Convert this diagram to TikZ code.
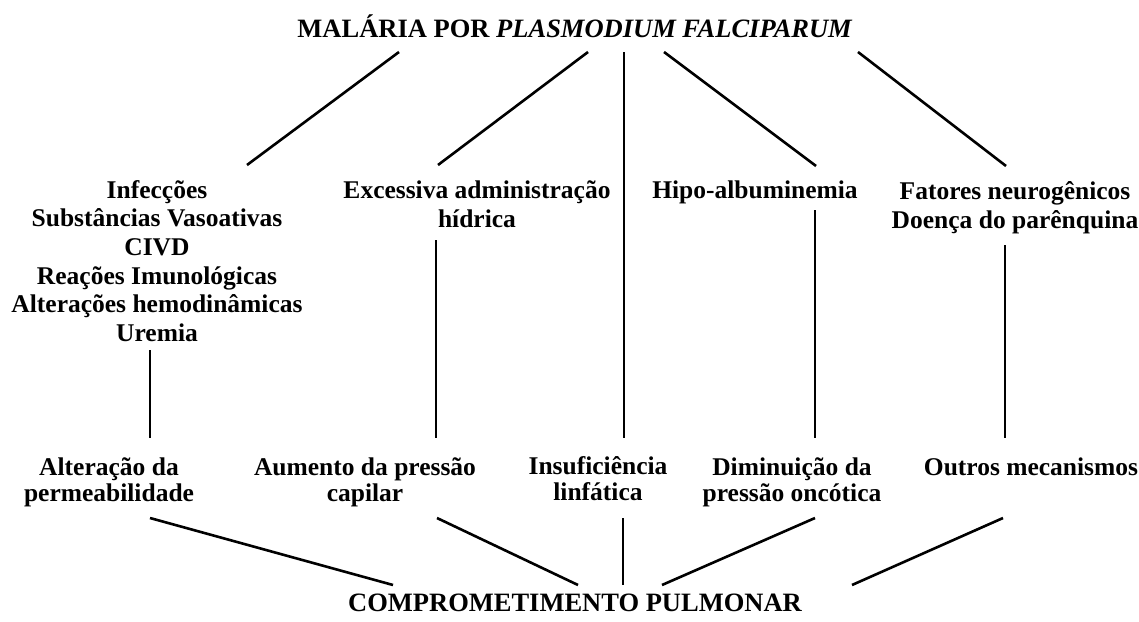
\documentclass[tikz,border=0pt]{standalone}
\usepackage{fontspec}
\setmainfont{Liberation Serif}

\begin{document}
\begin{tikzpicture}[x=1pt,y=-1pt,
    head/.style={font=\fontsize{26.5}{30}\selectfont\bfseries,inner sep=0pt,anchor=base},
    upper/.style={align=center,font=\fontsize{25.5}{28.6}\selectfont\bfseries,inner sep=0pt},
    lower/.style={align=center,font=\fontsize{25.5}{26}\selectfont\bfseries,inner sep=0pt},
    heavyline/.style={line width=2.6pt},
    lightline/.style={line width=1.3pt}]
    \useasboundingbox (0,0) rectangle (1139,621);

    \node[head] (malaria) at (575,37) {MALÁRIA POR \textit{PLASMODIUM FALCIPARUM}};
    \node[head] (pulmonar) at (575,611) {COMPROMETIMENTO PULMONAR};

    \node[upper] (infec) at (157,261) {Infecções\\Substâncias Vasoativas\\CIVD\\Reações Imunológicas\\Alterações hemodinâmicas\\Uremia};
    \node[upper] (excess) at (477,204) {Excessiva administração\\hídrica};
    \node[upper,anchor=base] (hipo) at (755,198) {Hipo-albuminemia};
    \node[upper] (fatores) at (1015,208) {Fatores neurogênicos\\Doença do parênquina};

    \node[lower] (alter) at (109,482) {Alteração da\\permeabilidade};
    \node[lower] (aumento) at (365,482) {Aumento da pressão\\capilar};
    \node[lower] (insuf) at (598,479) {Insuficiência\\linfática};
    \node[lower] (dimin) at (792,482) {Diminuição da\\pressão oncótica};
    \node[lower,anchor=base] (outros) at (1031,475) {Outros mecanismos};

    % line ends
    \coordinate (mal1) at (399,52);
    \coordinate (mal2) at (588,52);
    \coordinate (mal3) at (624,52);
    \coordinate (mal4) at (664,52);
    \coordinate (mal5) at (858,52);
    \coordinate (infA) at (247,165);
    \coordinate (excA) at (438,165);
    \coordinate (hipA) at (816,166);
    \coordinate (fatA) at (1006,166);
    \coordinate (infB) at (150,350);
    \coordinate (excB) at (436,240);
    \coordinate (hipB) at (815,210);
    \coordinate (fatB) at (1005,245);
    \coordinate (altA) at (150,438);
    \coordinate (aumA) at (436,438);
    \coordinate (insA) at (624,438);
    \coordinate (dimA) at (815,438);
    \coordinate (outA) at (1005,438);
    \coordinate (altB) at (150,518);
    \coordinate (aumB) at (437,518);
    \coordinate (insB) at (623,518);
    \coordinate (dimB) at (815,518);
    \coordinate (outB) at (1003,518);
    \coordinate (pul1) at (393,585);
    \coordinate (pul2) at (578,585);
    \coordinate (pul3) at (623,585);
    \coordinate (pul4) at (662,585);
    \coordinate (pul5) at (852,585);

    \draw[heavyline] (mal1) -- (infA);
    \draw[heavyline] (mal2) -- (excA);
    \draw[lightline] (mal3) -- (insA);
    \draw[heavyline] (mal4) -- (hipA);
    \draw[heavyline] (mal5) -- (fatA);

    \draw[lightline] (infB) -- (altA);
    \draw[lightline] (excB) -- (aumA);
    \draw[lightline] (hipB) -- (dimA);
    \draw[lightline] (fatB) -- (outA);

    \draw[heavyline] (altB) -- (pul1);
    \draw[heavyline] (aumB) -- (pul2);
    \draw[lightline] (insB) -- (pul3);
    \draw[heavyline] (dimB) -- (pul4);
    \draw[heavyline] (outB) -- (pul5);

\end{tikzpicture}
\end{document}
